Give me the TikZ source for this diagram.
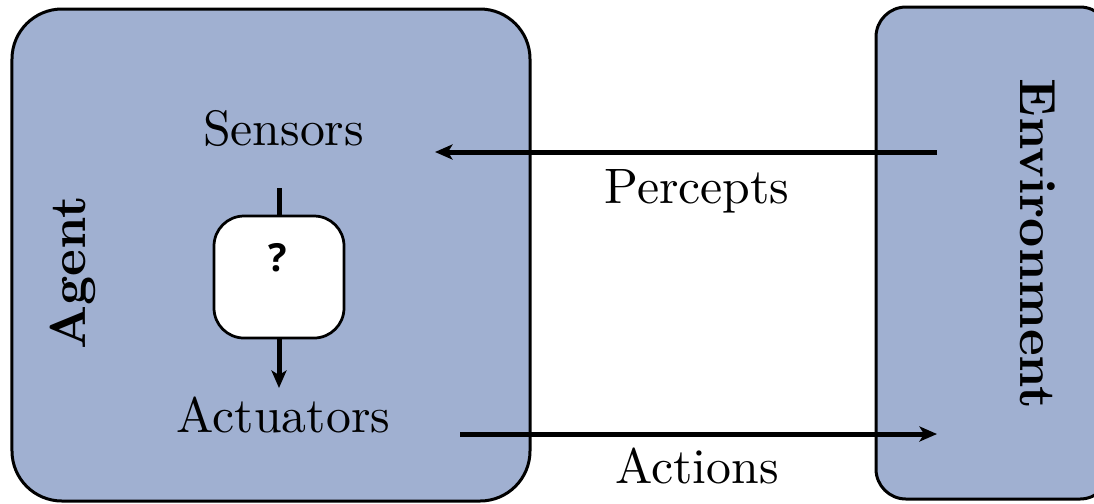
\documentclass[tikz,border=0pt]{standalone}
\usepackage{fontspec}
\setmainfont{lmroman10}[Extension=.otf, UprightFont=*-regular, BoldFont=*-bold, ItalicFont=*-italic, BoldItalicFont=*-bolditalic]
\newfontfamily\qfont{Open Sans}
\usetikzlibrary{arrows.meta}
\definecolor{boxblue}{RGB}{160,176,209}
\begin{document}
\begin{tikzpicture}[x=0.4pt,y=-0.4pt,
  bigbox/.style={draw=black, line width=1.2pt, fill=boxblue, inner sep=0pt},
  lbl/.style={font=\fontsize{19.9}{23}\selectfont, inner sep=0pt, anchor=base},
  blbl/.style={font=\fontsize{20.3}{23}\selectfont\bfseries, inner sep=0pt, anchor=base},
  conn/.style={line width=2pt, -{Stealth[length=7pt,width=6pt,inset=1.8pt]}},
  qbox/.style={draw=black, line width=1.1pt, fill=white, rounded corners=12pt,
    minimum width=52pt, minimum height=48.8pt, inner sep=0pt}]
\useasboundingbox (0,0) rectangle (1094,503);
\clip (0,0) rectangle (1094,503);
% boxes
\node[bigbox, rounded corners=20pt, minimum width=207.2pt, minimum height=196.8pt] (agent) at (271,255) {};
\node[bigbox, rounded corners=12pt, minimum width=93.6pt, minimum height=196.8pt] (env) at (993,253) {};
% labels
\node[blbl, rotate=90] (agentlbl) at (86,273) {Agent};
\node[blbl, rotate=-90] (envlbl) at (1020,244) {Environment};
\node[lbl] (sensors) at (283.5,145) {Sensors};
\node[lbl] (actuators) at (283.5,432) {Actuators};
\node[lbl] (percepts) at (697,203) {Percepts};
\node[lbl] (actions) at (697,483) {Actions};
% decision box
\node[qbox] (q) at (279,277) {};
\node[font=\qfont\bfseries\fontsize{15.5}{18}\selectfont, inner sep=0pt] (qm) at (278,258) {?};
\coordinate (stop) at (279,188);
\coordinate (atip) at (279,388);
\draw[line width=2pt] (stop) -- (q.north);
\draw[conn] (q.south) -- (atip);
% percepts / actions
\coordinate (pstart) at (937,152);
\coordinate (pend) at (435,152);
\coordinate (astart) at (460,434);
\coordinate (aend) at (937,434);
\draw[conn] (pstart) -- (pend);
\draw[conn] (astart) -- (aend);
\end{tikzpicture}
\end{document}
